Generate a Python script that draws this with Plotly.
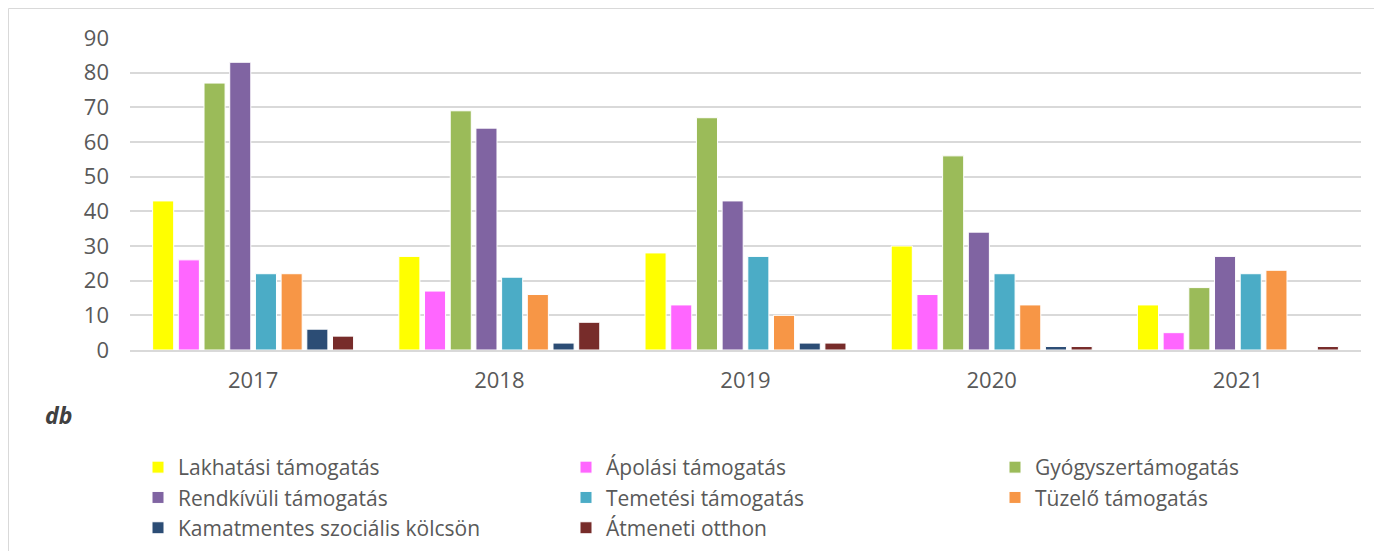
import plotly.graph_objects as go

years = ["2017", "2018", "2019", "2020", "2021"]
series_names = [
    "Lakhatási támogatás", "Ápolási támogatás", "Gyógyszertámogatás",
    "Rendkívüli támogatás", "Temetési támogatás", "Tüzelő támogatás",
    "Kamatmentes szociális kölcsön", "Átmeneti otthon",
]
lakhatasi = [43, 27, 28, 30, 13]
apolasi = [26, 17, 13, 16, 5]
gyogyszer = [77, 69, 67, 56, 18]
rendkivuli = [83, 64, 43, 34, 27]
temetesi = [22, 21, 27, 22, 22]
tuzelo = [22, 16, 10, 13, 23]
kamatmentes = [6, 2, 2, 1, 0]
atmeneti = [4, 8, 2, 1, 1]
values = [lakhatasi, apolasi, gyogyszer, rendkivuli, temetesi, tuzelo, kamatmentes, atmeneti]
colors = ["#FFFF00", "#FF66FF", "#9BBB59", "#8064A2", "#4BACC6", "#F79646", "#2C4D75", "#772C2A"]
legend_ids = ["legend", "legend2", "legend3"]

# figure sits 8px inside the page (body margin)
W, H = 1374, 543
L, R, T, B = 122, 21, 30, 201
FONT = "Open Sans"
TXT = "#595959"

fig = go.Figure()
for i, (name, vals, c) in enumerate(zip(series_names, values, colors)):
    fig.add_trace(go.Bar(x=years, y=vals, name=name, marker_color=c,
                         marker_line_color="white", marker_line_width=1,
                         legend=legend_ids[i % 3]))

pw = W - L - R
ph = H - T - B
def px(x):
    return (x - L) / pw
def py(y):
    return (H - B - y) / ph

def leg(xpix):
    return dict(orientation="v", xref="container", yref="container",
                x=xpix / W, y=1 - 439 / H, xanchor="left", yanchor="top",
                font=dict(size=21, color=TXT, family=FONT), itemwidth=30,
                traceorder="normal", bgcolor="rgba(0,0,0,0)")

fig.update_layout(
    width=W, height=H,
    margin=dict(l=L, r=R, t=T, b=B, autoexpand=False),
    paper_bgcolor="white", plot_bgcolor="white",
    barmode="group", bargap=0.165, bargroupgap=0.18,
    font=dict(family=FONT, size=22, color=TXT),
    xaxis=dict(showgrid=False, showline=True, linecolor="#D9D9D9", linewidth=2,
               ticks="", ticklabelstandoff=10, tickfont=dict(size=22, color=TXT),
               automargin=False),
    yaxis=dict(range=[0, 90], dtick=10, showgrid=True, gridcolor="#D9D9D9",
               gridwidth=1.5, zeroline=False, ticks="", ticklabelstandoff=20,
               tickfont=dict(size=22, color=TXT), automargin=False),
    legend=leg(130),
    legend2=leg(558),
    legend3=leg(987),
    showlegend=True,
)
fig.add_annotation(text="<b><i>db</i></b>", x=px(35), y=py(407), xref="paper", yref="paper",
                   xanchor="left", yanchor="middle", showarrow=False,
                   font=dict(size=23, color="#404040", family=FONT))
fig.add_shape(type="rect", xref="paper", yref="paper",
              x0=px(0.5), x1=px(W + 20), y0=py(H + 20), y1=py(0.5),
              line=dict(color="#D9D9D9", width=1), layer="below")
fig.write_html("out.html")
